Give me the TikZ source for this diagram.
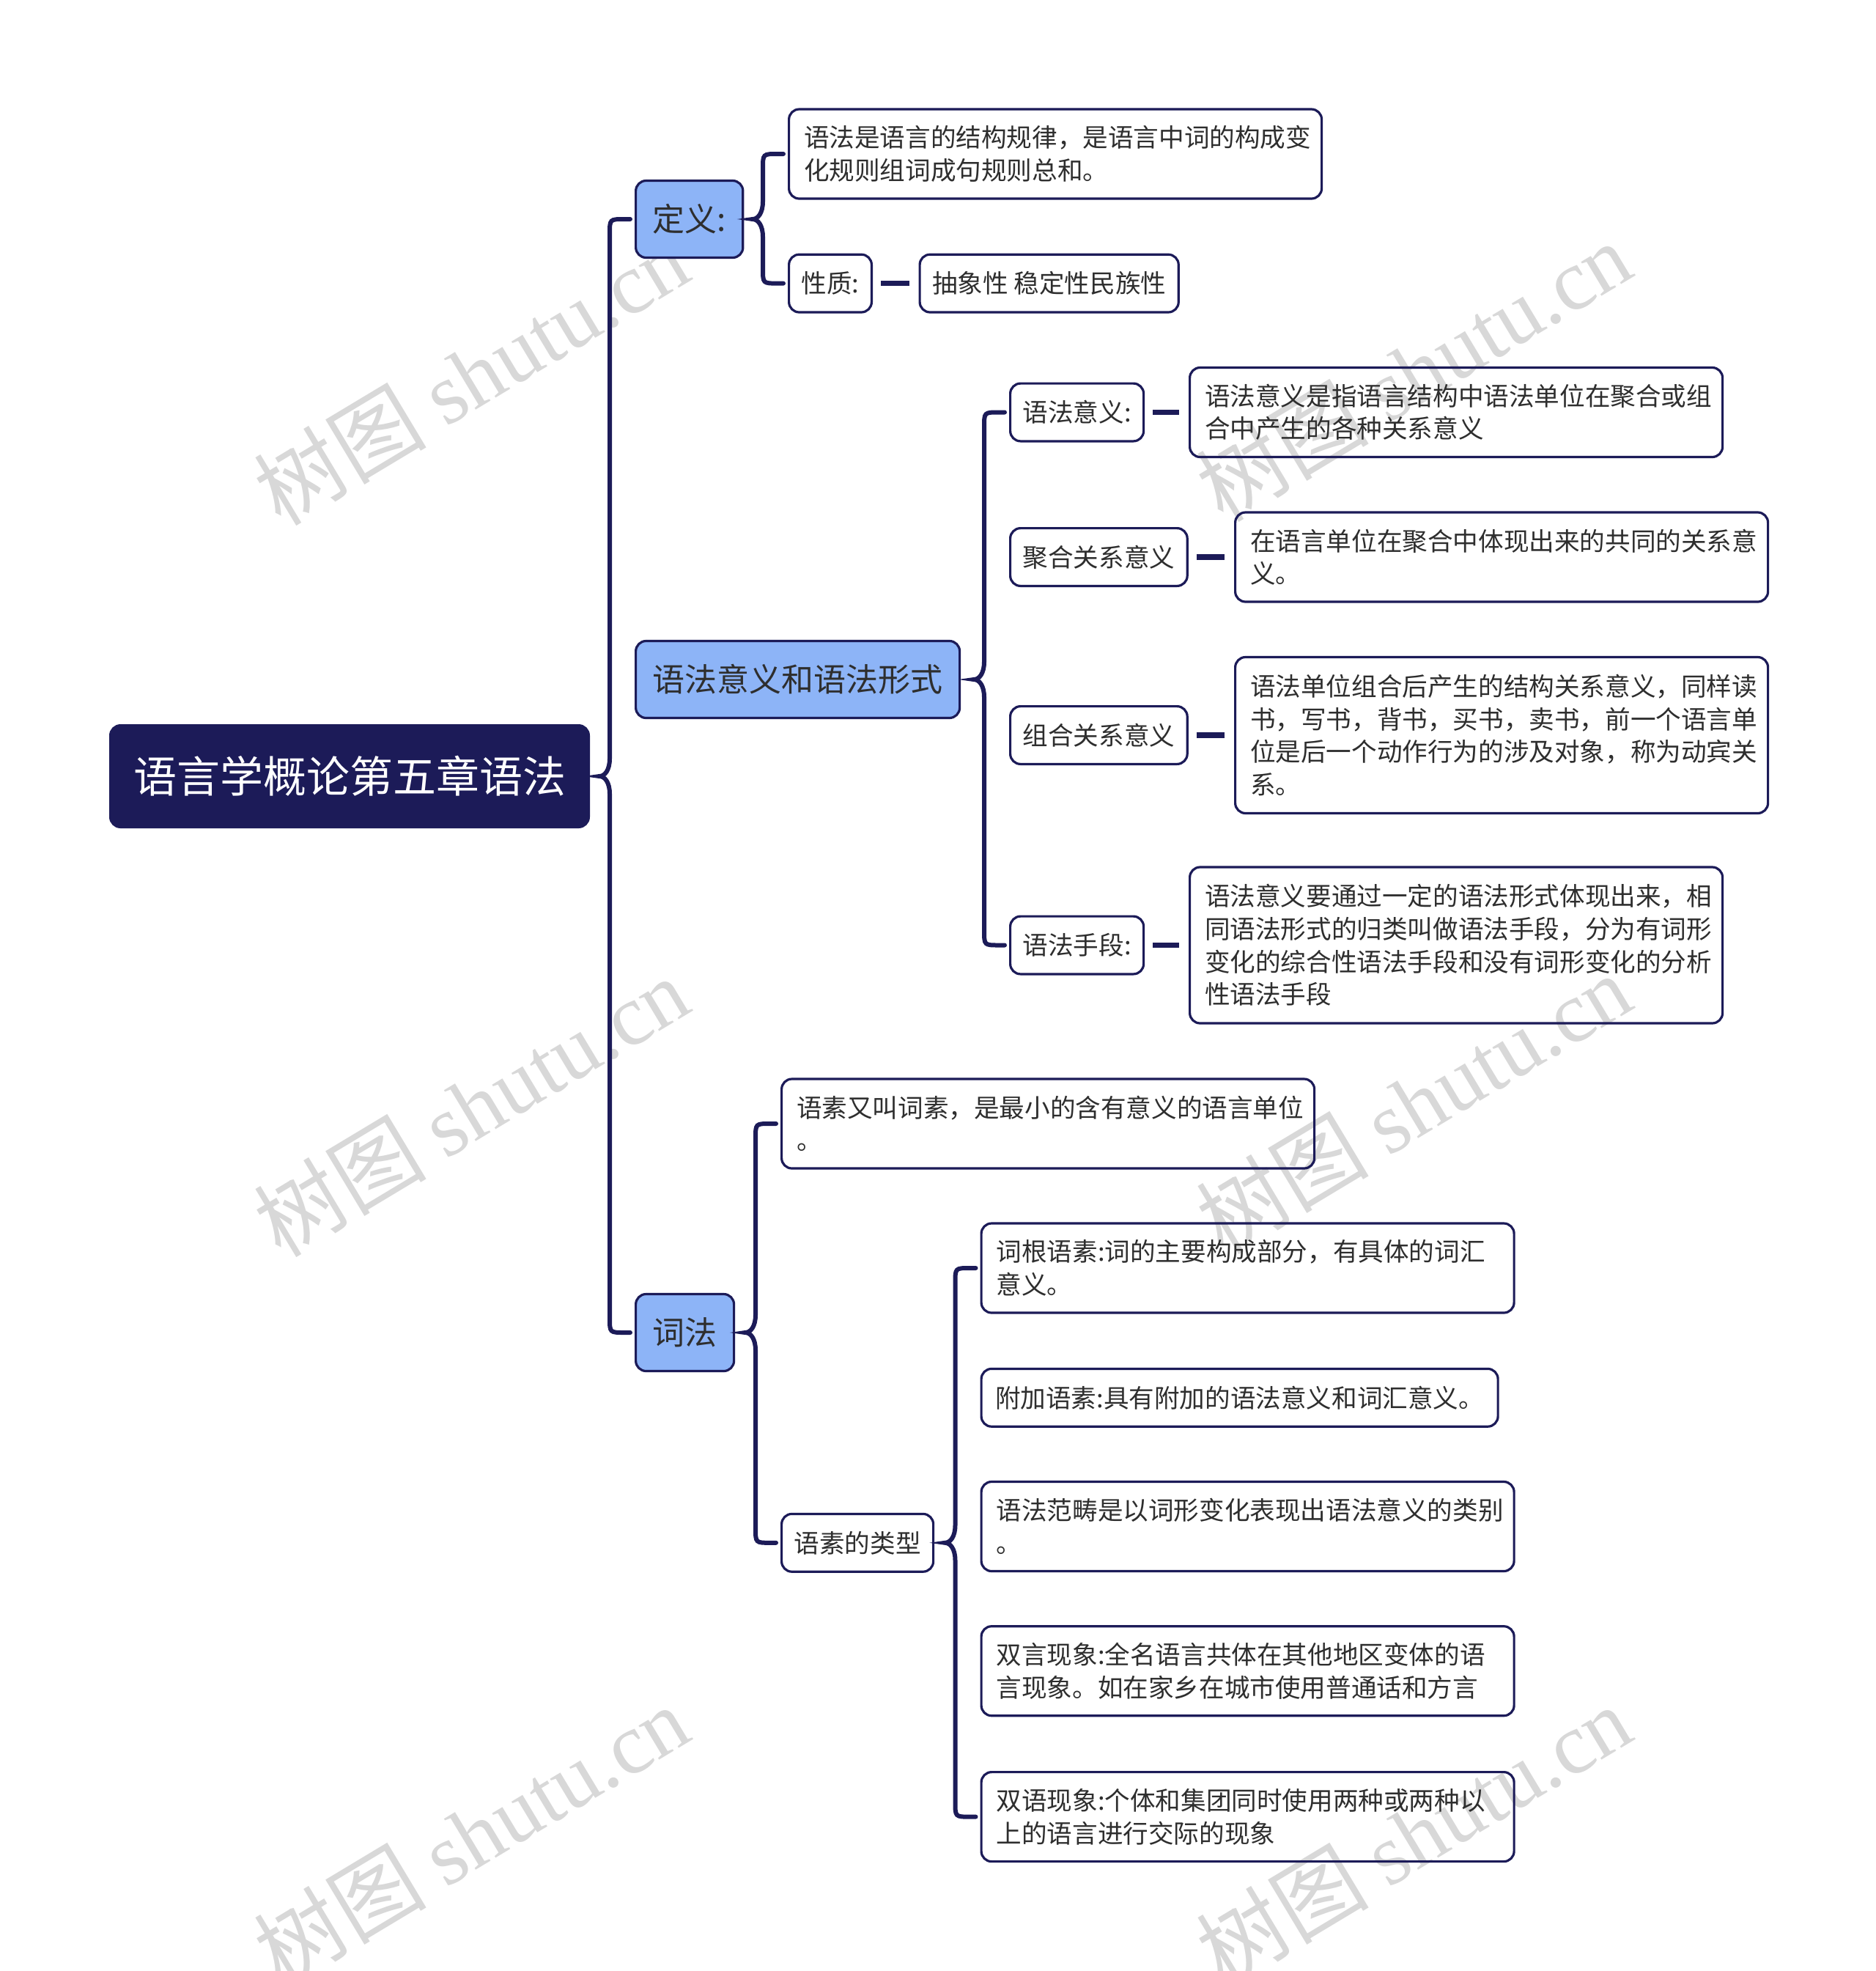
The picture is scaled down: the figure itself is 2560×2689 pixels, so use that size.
\documentclass[tikz,border=0pt]{standalone}
\usepackage{fontspec}
\setmainfont{Noto Sans CJK SC}
\newfontfamily\wmlatin{Liberation Serif}
\newfontfamily\wmcjk{Noto Sans CJK SC}
\usetikzlibrary{calc}
\definecolor{navy}{HTML}{1C1B58}
\definecolor{lblue}{HTML}{8DB4F7}
\definecolor{txt}{HTML}{2E2E2E}
\definecolor{wm}{HTML}{D8D8D8}
\newcommand\bracelink[3]{%
  \draw[conn] let \p1=(#1.east), \p2=(#2.west), \p3=(#3.west) in
    (\x2-3pt,\y2) -- (\x2-7pt,\y2) .. controls (\x2-17pt,\y2) .. (\x2-17pt,\y2-10pt)
    -- (\x2-17pt,\y1+12pt) .. controls (\x2-17pt,\y1+4pt) and (\x2-20.5pt,\y1) .. (\x2-24pt,\y1)
    .. controls (\x2-20.5pt,\y1) and (\x2-17pt,\y1-4pt) .. (\x2-17pt,\y1-12pt)
    -- (\x2-17pt,\y3+10pt) .. controls (\x2-17pt,\y3) .. (\x2-7pt,\y3) -- (\x3-3pt,\y3);
}
\begin{document}
\begin{tikzpicture}[x=0.5pt,y=-0.5pt,
  rootbox/.style={draw=navy, fill=navy, line width=1.5pt, rounded corners=7pt, text=white,
    font=\fontsize{29.5}{34}\selectfont, minimum height=69.5pt, minimum width=326.5pt, inner xsep=10pt, anchor=west},
  topicbox/.style={draw=navy, fill=lblue, line width=1.6pt, rounded corners=7pt, text=txt,
    font=\fontsize{22}{26}\selectfont, minimum height=52.5pt, inner xsep=11.5pt, anchor=west},
  leafbox/.style={draw=navy, line width=1.6pt, rounded corners=7pt, text=txt,
    font=\fontsize{17.3}{22.3}\selectfont, minimum height=39.4pt, inner xsep=8.5pt, inner ysep=4pt, anchor=west},
  widebox/.style={leafbox, text width=343pt, align=left, inner xsep=10.25pt},
  conn/.style={draw=navy, line width=3pt, line cap=round},
  dashconn/.style={draw=navy, line width=3.8pt, shorten <=5.5pt, shorten >=6.5pt},
  wmark/.style={text=wm, rotate=31, font=\fontsize{59}{60}\selectfont, inner sep=0pt}
]
\useasboundingbox (0,0) rectangle (2560,2689);
\fill[white] (0,0) rectangle (2560,2689);

% watermarks
\node[wmark] (w1) at (643,511) {\wmcjk 树图 \wmlatin shutu.cn};
\node[wmark] (w2) at (1929,506) {\wmcjk 树图 \wmlatin shutu.cn};
\node[wmark] (w3) at (643,1509) {\wmcjk 树图 \wmlatin shutu.cn};
\node[wmark] (w4) at (1929,1505) {\wmcjk 树图 \wmlatin shutu.cn};
\node[wmark] (w5) at (643,2503) {\wmcjk 树图 \wmlatin shutu.cn};
\node[wmark] (w6) at (1929,2503) {\wmcjk 树图 \wmlatin shutu.cn};

% root
\node[rootbox] (root) at (149,1059) {语言学概论第五章语法};

% level 1
\node[topicbox] (def) at (866,299) {定义:};
\node[topicbox] (mf) at (866,927) {语法意义和语法形式};
\node[topicbox] (cf) at (866,1818) {词法};

% definition branch
\node[widebox, minimum height=61pt] (a1) at (1075,210) {语法是语言的结构规律，是语言中词的构成变\\化规则组词成句规则总和。};
\node[leafbox] (xz) at (1075,386.6) {性质:};
\node[leafbox] (cx) at (1253.5,386.6) {抽象性 稳定性民族性};

% meaning / form branch
\node[leafbox] (yfyy) at (1377,562.5) {语法意义:};
\node[widebox, minimum height=61pt] (b1) at (1622,562.5) {语法意义是指语言结构中语法单位在聚合或组\\合中产生的各种关系意义};
\node[leafbox] (jh) at (1377,760) {聚合关系意义};
\node[widebox, minimum height=61pt] (b2) at (1684,760) {在语言单位在聚合中体现出来的共同的关系意\\义。};
\node[leafbox] (zh) at (1377,1003) {组合关系意义};
\node[widebox, minimum height=106.5pt] (b3) at (1684,1003) {语法单位组合后产生的结构关系意义，同样读\\书，写书，背书，买书，卖书，前一个语言单\\位是后一个动作行为的涉及对象，称为动宾关\\系。};
\node[leafbox] (sd) at (1377,1289.5) {语法手段:};
\node[widebox, minimum height=106.5pt] (b4) at (1622,1289.5) {语法意义要通过一定的语法形式体现出来，相\\同语法形式的归类叫做语法手段，分为有词形\\变化的综合性语法手段和没有词形变化的分析\\性语法手段};

% morphology branch
\node[widebox, minimum height=61pt] (c1) at (1065,1533) {语素又叫词素，是最小的含有意义的语言单位\\。};
\node[leafbox] (lx) at (1065,2104.8) {语素的类型};
\node[widebox, minimum height=61pt] (d1) at (1337.5,1730) {词根语素:词的主要构成部分，有具体的词汇\\意义。};
\node[leafbox, inner xsep=9.5pt] (d2) at (1337.5,1906.8) {附加语素:具有附加的语法意义和词汇意义。};
\node[widebox, minimum height=61pt] (d3) at (1337.5,2082.5) {语法范畴是以词形变化表现出语法意义的类别\\。};
\node[widebox, minimum height=61pt] (d4) at (1337.5,2279.7) {双言现象:全名语言共体在其他地区变体的语\\言现象。如在家乡在城市使用普通话和方言};
\node[widebox, minimum height=61pt] (d5) at (1337.5,2478.6) {双语现象:个体和集团同时使用两种或两种以\\上的语言进行交际的现象};

% braces
\bracelink{root}{def}{cf}
\bracelink{def}{a1}{xz}
\bracelink{mf}{yfyy}{sd}
\bracelink{cf}{c1}{lx}
\bracelink{lx}{d1}{d5}

% dash connectors
\draw[dashconn] (xz.east) -- (xz.east -| cx.west);
\draw[dashconn] (yfyy.east) -- (yfyy.east -| b1.west);
\draw[dashconn] (jh.east) -- (jh.east -| b2.west);
\draw[dashconn] (zh.east) -- (zh.east -| b3.west);
\draw[dashconn] (sd.east) -- (sd.east -| b4.west);
\end{tikzpicture}
\end{document}
